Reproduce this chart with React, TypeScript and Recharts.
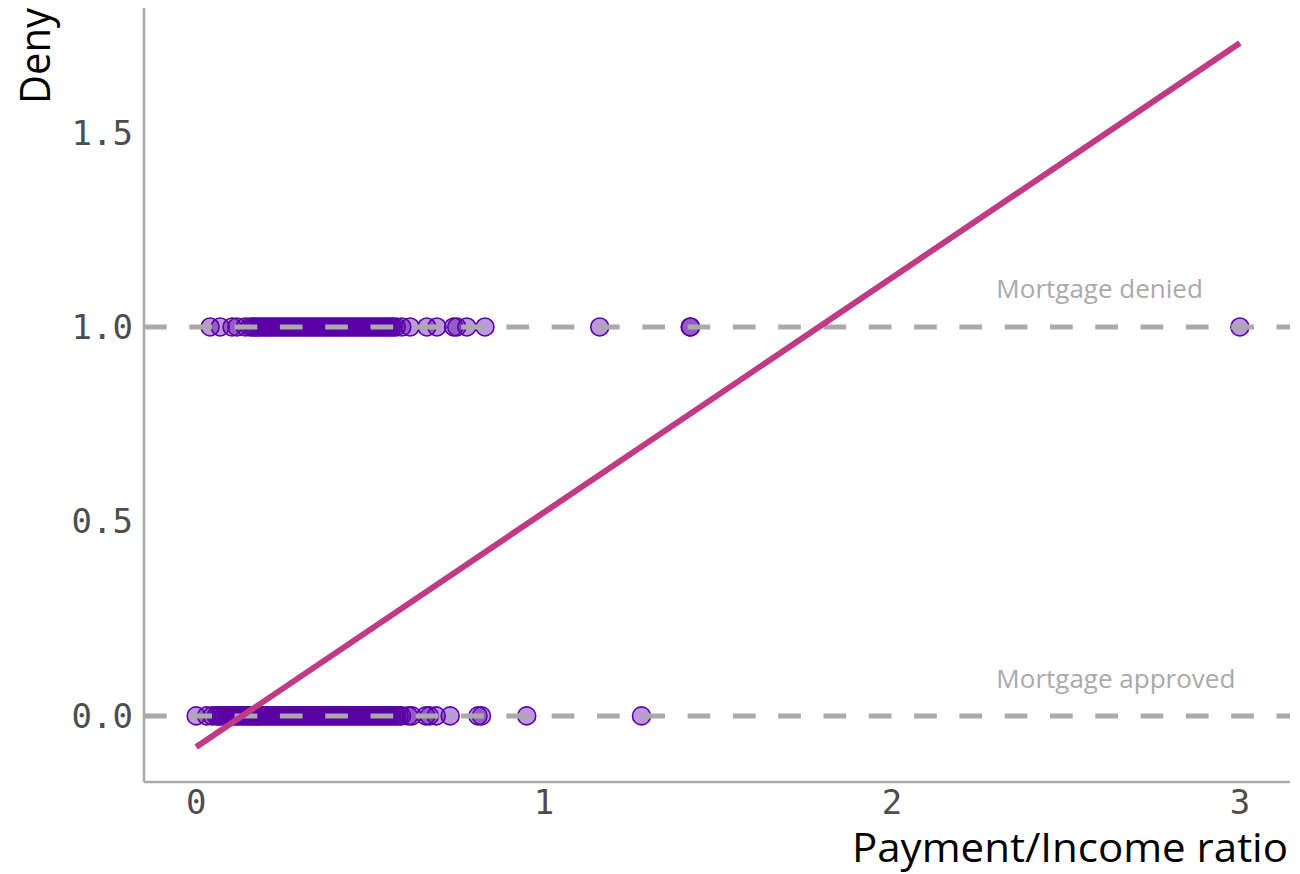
import React from 'react';
import { ScatterChart, Scatter, XAxis, YAxis, ReferenceLine, ReferenceDot } from 'recharts';

// Payment/Income ratio of applicants whose mortgage was approved (deny = 0)
const approvedRatio: number[] = [
  0.0, 0.03, 0.046, 0.058, 0.065, 0.072, 0.08, 0.088, 0.095, 0.103, 0.11, 0.118, 0.125, 0.133,
  0.14, 0.148, 0.155, 0.163, 0.17, 0.178, 0.185, 0.193, 0.2, 0.208, 0.215, 0.223, 0.23, 0.238,
  0.245, 0.253, 0.26, 0.268, 0.275, 0.283, 0.29, 0.298, 0.305, 0.313, 0.32, 0.328, 0.335, 0.343,
  0.35, 0.358, 0.365, 0.373, 0.38, 0.388, 0.395, 0.403, 0.41, 0.418, 0.425, 0.433, 0.44, 0.448,
  0.455, 0.463, 0.47, 0.478, 0.485, 0.493, 0.5, 0.508, 0.515, 0.523, 0.53, 0.538, 0.545, 0.553,
  0.56, 0.568, 0.575, 0.583, 0.59, 0.61, 0.62, 0.66, 0.67, 0.69, 0.73, 0.81, 0.82, 0.95, 1.28,
];

// Payment/Income ratio of applicants whose mortgage was denied (deny = 1)
const deniedRatio: number[] = [
  0.04, 0.069, 0.103, 0.117, 0.141, 0.155, 0.163, 0.17, 0.178, 0.185, 0.193, 0.2, 0.208, 0.215,
  0.223, 0.23, 0.238, 0.245, 0.253, 0.26, 0.268, 0.275, 0.283, 0.29, 0.298, 0.305, 0.313, 0.32,
  0.328, 0.335, 0.343, 0.35, 0.358, 0.365, 0.373, 0.38, 0.388, 0.395, 0.403, 0.41, 0.418, 0.425,
  0.433, 0.44, 0.448, 0.455, 0.463, 0.47, 0.478, 0.485, 0.493, 0.5, 0.508, 0.515, 0.523, 0.53,
  0.538, 0.545, 0.553, 0.56, 0.566, 0.575, 0.591, 0.615, 0.663, 0.692, 0.74, 0.749, 0.778, 0.83,
  1.16, 1.42, 1.421, 3.0,
];

// Fitted linear probability model line (endpoints)
const fitX: number[] = [0, 3.0];
const fitY: number[] = [-0.08, 1.73];

const xTicks: number[] = [0, 1, 2, 3];
const yTicks: number[] = [0, 0.5, 1, 1.5];
const yTickLabels: string[] = ['0.0', '0.5', '1.0', '1.5'];

const approvedData = approvedRatio.map((x) => ({ x, y: 0 }));
const deniedData = deniedRatio.map((x) => ({ x, y: 1 }));
const fitData = fitX.map((x, i) => ({ x, y: fitY[i] }));

const PURPLE = '#5a00a8';
const GREY = '#aaaaaa';
const MAGENTA = '#c13a85';

const Dot = (props: any) => {
  const { cx, cy } = props;
  if (cx == null || cy == null) return <g />;
  return <circle cx={cx} cy={cy} r={9} fill={PURPLE} fillOpacity={0.4} stroke={PURPLE} strokeWidth={1.6} />;
};

const NoDot = () => <g />;

const monoFont = '"DejaVu Sans Mono", monospace';
const sansFont = '"Open Sans", "Noto Sans", sans-serif';

const YTitle = () => (
  <text
    x={50}
    y={8}
    transform="rotate(-90, 50, 8)"
    textAnchor="end"
    fontFamily={sansFont}
    fontSize={42}
    fill="#000"
    textLength={96}
    lengthAdjust="spacingAndGlyphs"
  >
    Deny
  </text>
);

const XTitle = (props: any) => {
  const vb = props.viewBox || {};
  const right = (vb.x ?? 144) + (vb.width ?? 1146);
  const bottom = (vb.y ?? 782) + (vb.height ?? 92);
  return (
    <text
      x={right - 2}
      y={bottom - 12}
      textAnchor="end"
      fontFamily={sansFont}
      fontSize={40}
      fill="#000"
      textLength={436}
      lengthAdjust="spacingAndGlyphs"
    >
      Payment/Income ratio
    </text>
  );
};

export default function App() {
  return (
    <div style={{ position: 'absolute', left: 0, top: 0, width: 1300, height: 874, background: '#fff' }}>
      <ScatterChart width={1300} height={874} margin={{ top: 8, right: 10, bottom: 0, left: 0 }}>
        <XAxis
          type="number"
          dataKey="x"
          domain={[-0.15, 3.144]}
          ticks={xTicks}
          allowDataOverflow
          height={92}
          tickLine={false}
          axisLine={{ stroke: GREY, strokeWidth: 2.5 }}
          tick={{ fontFamily: monoFont, fontSize: 34, fill: '#4d4d4d' }}
          tickMargin={2}
          label={<XTitle />}
        />
        <YAxis
          type="number"
          dataKey="y"
          domain={[-0.17, 1.82]}
          ticks={yTicks}
          allowDataOverflow
          width={144}
          tickLine={false}
          axisLine={{ stroke: GREY, strokeWidth: 2.5 }}
          tick={{ fontFamily: monoFont, fontSize: 34, fill: '#4d4d4d' }}
          tickFormatter={(v: number) => yTickLabels[yTicks.indexOf(v)] ?? String(v)}
          tickMargin={5}
          label={<YTitle />}
        />
        <Scatter data={approvedData} shape={<Dot />} isAnimationActive={false} />
        <Scatter data={deniedData} shape={<Dot />} isAnimationActive={false} />
        <ReferenceLine y={0} stroke={GREY} strokeWidth={5} strokeDasharray="22.7 22.6" zIndex={700} />
        <ReferenceLine y={1} stroke={GREY} strokeWidth={5} strokeDasharray="22.7 22.6" zIndex={700} />
        <Scatter
          data={fitData}
          shape={<NoDot />}
          line={{ stroke: MAGENTA, strokeWidth: 6 }}
          isAnimationActive={false}
          zIndex={800}
        />
        <ReferenceDot
          x={2.3}
          y={1.098}
          r={0}
          fill="none"
          stroke="none"
          label={{ value: 'Mortgage denied', position: 'right', offset: 0, fill: GREY, fontSize: 26, fontFamily: sansFont }}
        />
        <ReferenceDot
          x={2.3}
          y={0.095}
          r={0}
          fill="none"
          stroke="none"
          label={{ value: 'Mortgage approved', position: 'right', offset: 0, fill: GREY, fontSize: 26, fontFamily: sansFont }}
        />
      </ScatterChart>
    </div>
  );
}
